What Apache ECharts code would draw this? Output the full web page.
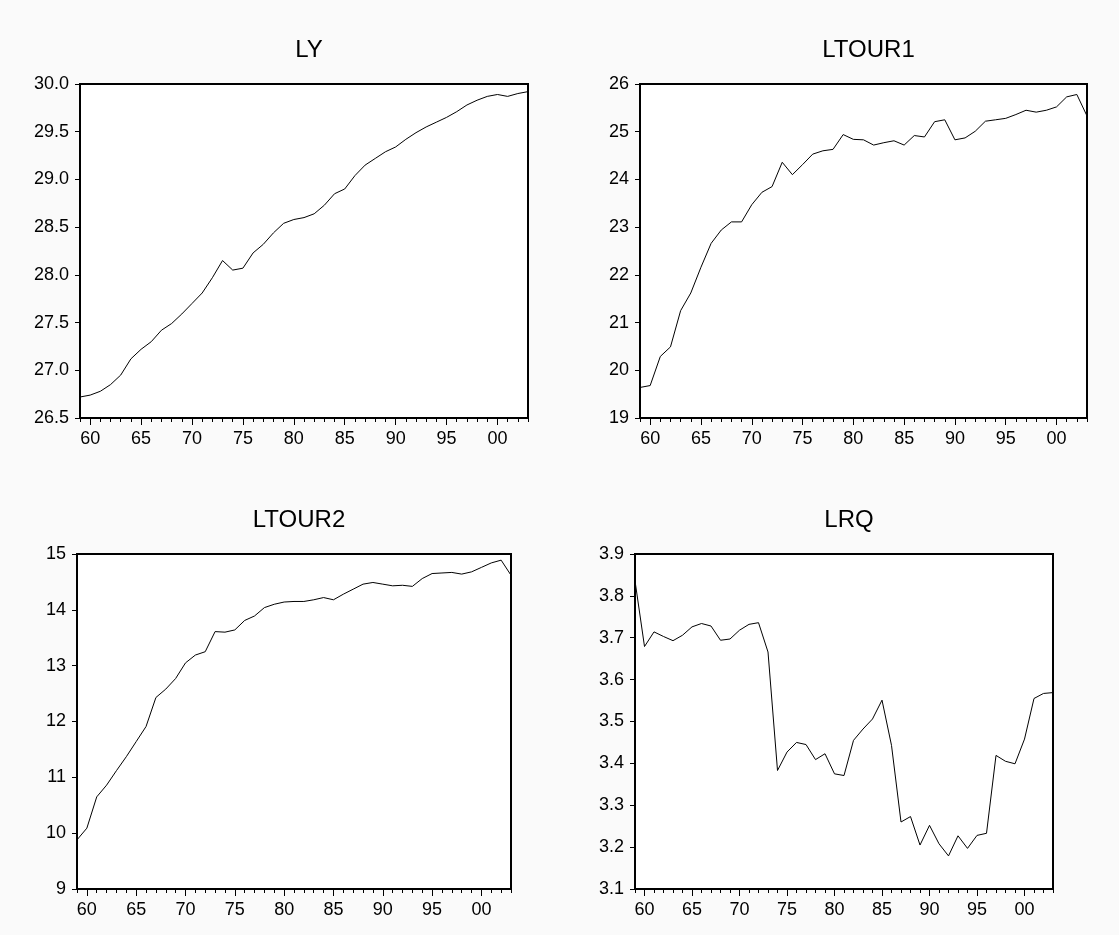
<!DOCTYPE html>
<html>
<head>
<meta charset="utf-8">
<script src="https://cdn.jsdelivr.net/npm/echarts@6/dist/echarts.min.js"></script>
<style>
html,body{margin:0;padding:0;background:#fafafa;}
#chart{width:1119px;height:935px;}
</style>
</head>
<body>
<div id="chart"></div>
<script>
const years = [];
for (let y = 1959; y <= 2003; y++) years.push(y);

const titles = ['LY', 'LTOUR1', 'LTOUR2', 'LRQ'];

const ly = [26.72,26.74,26.78,26.85,26.95,27.12,27.22,27.30,27.42,27.49,27.59,27.70,27.81,27.97,28.15,28.05,28.07,28.23,28.32,28.44,28.54,28.58,28.60,28.64,28.73,28.85,28.90,29.04,29.15,29.22,29.29,29.34,29.42,29.49,29.55,29.60,29.65,29.71,29.78,29.83,29.87,29.89,29.87,29.90,29.92];
const ltour1 = [19.64,19.68,20.29,20.49,21.25,21.62,22.16,22.66,22.94,23.11,23.11,23.47,23.73,23.85,24.36,24.10,24.31,24.53,24.60,24.63,24.94,24.84,24.83,24.72,24.77,24.81,24.72,24.92,24.89,25.21,25.25,24.83,24.87,25.01,25.22,25.25,25.28,25.36,25.45,25.41,25.45,25.52,25.73,25.78,25.33];
const ltour2 = [9.88,10.09,10.65,10.86,11.12,11.37,11.64,11.91,12.43,12.58,12.77,13.05,13.19,13.25,13.61,13.60,13.64,13.81,13.89,14.04,14.10,14.14,14.15,14.15,14.18,14.22,14.18,14.28,14.37,14.46,14.49,14.46,14.43,14.44,14.42,14.56,14.65,14.66,14.67,14.64,14.68,14.76,14.84,14.89,14.62];
const lrq = [3.836,3.679,3.714,3.703,3.693,3.706,3.726,3.734,3.728,3.694,3.697,3.718,3.732,3.736,3.666,3.383,3.427,3.450,3.445,3.409,3.423,3.375,3.371,3.455,3.482,3.506,3.551,3.443,3.260,3.273,3.205,3.252,3.208,3.179,3.227,3.197,3.228,3.233,3.419,3.405,3.399,3.458,3.555,3.567,3.569];

const yMin = [26.5, 19, 9, 3.1];
const yMax = [30.0, 26, 15, 3.9];
const yStep = [0.5, 1, 1, 0.1];
const yDecimals = [1, 0, 0, 1];
const seriesData = [ly, ltour1, ltour2, lrq];

const grids = [
  {left: 80, top: 84, right: 591, bottom: 517},
  {left: 640, top: 84, right: 32, bottom: 517},
  {left: 77, top: 554, right: 608, bottom: 46},
  {left: 635, top: 554, right: 66, bottom: 46}
];
const W = 1119;
const font = 'Liberation Sans, Arial, sans-serif';

const option = {
  animation: false,
  backgroundColor: '#fafafa',
  title: [],
  grid: [],
  xAxis: [],
  yAxis: [],
  series: []
};

grids.forEach((g, i) => {
  option.grid.push({
    left: g.left, top: g.top, right: g.right, bottom: g.bottom,
    show: true, backgroundColor: '#ffffff', borderColor: '#000', borderWidth: 2
  });
  const plotCenter = (g.left + (W - g.right)) / 2;
  option.title.push({
    text: titles[i], left: plotCenter, top: g.top - 51, textAlign: 'center',
    textStyle: {fontFamily: font, fontSize: 24, fontWeight: 'normal', color: '#000'}
  });
  const labels = years.map(y => String(y % 100).padStart(2, '0'));
  option.xAxis.push({
    type: 'category', gridIndex: i, data: labels, boundaryGap: false,
    axisLine: {show: true, lineStyle: {color: '#000', width: 2}},
    axisTick: {show: true, interval: 0, length: 4, lineStyle: {color: '#000', width: 1}},
    axisLabel: {show: false},
    splitLine: {show: false}
  });
  option.xAxis.push({
    type: 'category', gridIndex: i, data: labels, boundaryGap: false, position: 'bottom',
    axisLine: {show: false},
    axisTick: {show: true, length: 7, interval: (idx) => years[idx] % 5 === 0, lineStyle: {color: '#000', width: 1}},
    axisLabel: {show: true, interval: (idx) => years[idx] % 5 === 0, margin: 12,
      fontFamily: font, fontSize: 18, color: '#000'},
    splitLine: {show: false}
  });
  option.yAxis.push({
    type: 'value', gridIndex: i, min: yMin[i], max: yMax[i], interval: yStep[i],
    axisLine: {show: true, lineStyle: {color: '#000', width: 2}},
    axisTick: {show: true, length: 5, lineStyle: {color: '#000', width: 1}},
    axisLabel: {margin: 11, fontFamily: font, fontSize: 18, color: '#000',
      formatter: (v) => v.toFixed(yDecimals[i])},
    splitLine: {show: false}
  });
  option.series.push({
    type: 'line', xAxisIndex: i * 2, yAxisIndex: i, data: seriesData[i],
    showSymbol: false, symbol: 'none',
    lineStyle: {color: '#000', width: 1}
  });
});

const chart = echarts.init(document.getElementById('chart'), null, {renderer: 'canvas'});
chart.setOption(option);
</script>
</body>
</html>
